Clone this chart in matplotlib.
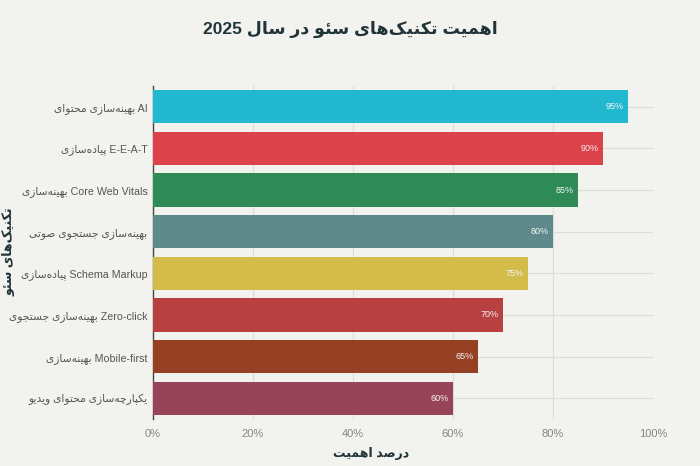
import matplotlib
matplotlib.use("Agg")
import matplotlib.pyplot as plt

# Persian shaping (presentation forms) since matplotlib does no Arabic shaping
FORMS = {
    "\u0627": ("\uFE8D", "\uFE8E", None, None),
    "\u0628": ("\uFE8F", "\uFE90", "\uFE91", "\uFE92"),
    "\u067E": ("\uFB56", "\uFB57", "\uFB58", "\uFB59"),
    "\u062A": ("\uFE95", "\uFE96", "\uFE97", "\uFE98"),
    "\u062C": ("\uFE9D", "\uFE9E", "\uFE9F", "\uFEA0"),
    "\u0686": ("\uFB7A", "\uFB7B", "\uFB7C", "\uFB7D"),
    "\u062D": ("\uFEA1", "\uFEA2", "\uFEA3", "\uFEA4"),
    "\u062F": ("\uFEA9", "\uFEAA", None, None),
    "\u0631": ("\uFEAD", "\uFEAE", None, None),
    "\u0632": ("\uFEAF", "\uFEB0", None, None),
    "\u0633": ("\uFEB1", "\uFEB2", "\uFEB3", "\uFEB4"),
    "\u0635": ("\uFEB9", "\uFEBA", "\uFEBB", "\uFEBC"),
    "\u06A9": ("\uFB8E", "\uFB8F", "\uFB90", "\uFB91"),
    "\u0644": ("\uFEDD", "\uFEDE", "\uFEDF", "\uFEE0"),
    "\u0645": ("\uFEE1", "\uFEE2", "\uFEE3", "\uFEE4"),
    "\u0646": ("\uFEE5", "\uFEE6", "\uFEE7", "\uFEE8"),
    "\u0647": ("\uFEE9", "\uFEEA", "\uFEEB", "\uFEEC"),
    "\u0648": ("\uFEED", "\uFEEE", None, None),
    "\u06CC": ("\uFBFC", "\uFBFD", "\uFBFE", "\uFBFF"),
    "\u0626": ("\uFE89", "\uFE8A", "\uFE8B", "\uFE8C"),
}


def is_ar(c):
    return c in FORMS or c == "\u200c"


def shape(word):
    out = []
    for i, c in enumerate(word):
        if c not in FORMS:
            if c != "\u200c":
                out.append(c)
            continue
        prev = word[i - 1] if i > 0 else ""
        nxt = word[i + 1] if i + 1 < len(word) else ""
        jp = prev in FORMS and FORMS[prev][2] is not None
        jn = nxt in FORMS and FORMS[c][2] is not None
        iso, fin, ini, med = FORMS[c]
        if jp and jn:
            out.append(med)
        elif jp:
            out.append(fin)
        elif jn:
            out.append(ini)
        else:
            out.append(iso)
    return "".join(out)


def runs(text):
    res = []
    cur, kind = "", None
    for c in text:
        k = "ar" if is_ar(c) else ("sp" if c == " " else "lt")
        if k == "sp":
            cur += c
            continue
        if kind is None or k == kind:
            cur += c
            kind = k
        else:
            stripped = cur.rstrip(" ")
            res.append((kind, stripped))
            res.append(("sp", cur[len(stripped):]))
            cur, kind = c, k
    res.append((kind, cur))
    return res


def fa(text, rtl=False):
    parts = []
    for kind, s in runs(text):
        if kind == "ar":
            parts.append(shape(s)[::-1])
        else:
            parts.append(s)
    if rtl:
        parts = parts[::-1]
    return "".join(parts)


categories = [
    "بهینه‌سازی محتوای AI",
    "پیاده‌سازی E-E-A-T",
    "بهینه‌سازی Core Web Vitals",
    "بهینه‌سازی جستجوی صوتی",
    "پیاده‌سازی Schema Markup",
    "بهینه‌سازی جستجوی Zero-click",
    "بهینه‌سازی Mobile-first",
    "یکپارچه‌سازی محتوای ویدیو",
]
values = [95, 90, 85, 80, 75, 70, 65, 60]
colors = ["#22b8cf", "#dc4249", "#2e8b57", "#5f8a8b",
          "#d4bc4b", "#b94040", "#964023", "#974458"]
xticks = [0, 20, 40, 60, 80, 100]

title = "اهمیت تکنیک‌های سئو در سال 2025"
ylabel = "تکنیک‌های سئو"
xlabel = "درصد اهمیت"

plt.rcParams["font.family"] = ["Liberation Sans", "DejaVu Sans"]
bg = "#f2f2ee"
dark = "#1f3338"

fig = plt.figure(figsize=(7, 4.66), dpi=100, facecolor=bg)
ax = fig.add_axes([153 / 700, 47 / 466, 500 / 700, 333 / 466], facecolor=bg)

ypos = list(range(len(categories)))
ax.barh(ypos, values, height=0.8, color=colors, zorder=3)
for y, v in zip(ypos, values):
    ax.text(v - 0.8, y, f"{v}%", ha="right", va="center", color="#f4f4f4",
            fontsize=6.5, zorder=4)

ax.set_xlim(0, 100)
ax.set_ylim(len(categories) - 0.5, -0.5)
ax.set_xticks(xticks)
ax.set_xticklabels([f"{t}%" for t in xticks], color="#858585")
ax.set_yticks(ypos)
ax.set_yticklabels([fa(c) for c in categories], color="#555555")
ax.tick_params(axis="both", length=0, labelsize=8)
ax.tick_params(axis="y", labelsize=7.7, pad=4)
ax.tick_params(axis="x", pad=7)
ax.grid(True, color="#dcdcd8", linewidth=0.8, zorder=0)

for s in ["top", "right", "bottom"]:
    ax.spines[s].set_visible(False)
ax.spines["left"].set_color("#444444")
ax.spines["left"].set_linewidth(1)

fig.text(371 / 700, 1 - 453 / 466, fa(xlabel, rtl=True), ha="center",
         va="center", fontsize=9, fontweight="bold", color=dark)
fig.text(9 / 700, 1 - 252 / 466, fa(ylabel, rtl=True), ha="center",
         va="center", rotation=90, fontsize=9, fontweight="bold", color=dark)
fig.text(350 / 700, 1 - 29 / 466, fa(title, rtl=True), ha="center",
         va="center", fontsize=12.5, fontweight="bold", color=dark)

fig.savefig("out.png", dpi=100, facecolor=bg)
